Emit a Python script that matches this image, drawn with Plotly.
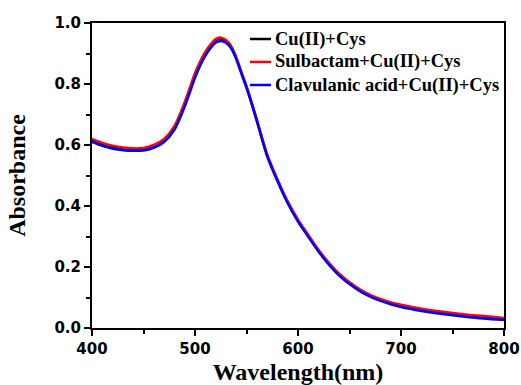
import plotly.graph_objects as go

wavelength = [400, 410, 420, 430, 440, 450, 460, 470, 480, 490, 500, 505, 510, 515, 520, 525,
              530, 535, 540, 545, 550, 555, 560, 570, 580, 590, 600, 610, 620, 630, 640, 650,
              660, 670, 680, 690, 700, 720, 740, 760, 780, 800]

cu_cys = [0.616, 0.603, 0.594, 0.588, 0.585, 0.586, 0.596, 0.616, 0.658, 0.736, 0.831, 0.870,
          0.901, 0.925, 0.944, 0.949, 0.941, 0.922, 0.885, 0.837, 0.790, 0.737, 0.681, 0.567,
          0.485, 0.412, 0.352, 0.302, 0.253, 0.211, 0.175, 0.147, 0.124, 0.106, 0.092, 0.081,
          0.072, 0.059, 0.049, 0.041, 0.035, 0.029]

sulbactam = [0.620, 0.607, 0.598, 0.592, 0.589, 0.590, 0.600, 0.620, 0.662, 0.740, 0.835, 0.874,
             0.905, 0.929, 0.947, 0.952, 0.944, 0.925, 0.888, 0.840, 0.793, 0.740, 0.684, 0.570,
             0.488, 0.415, 0.355, 0.305, 0.256, 0.214, 0.178, 0.150, 0.127, 0.109, 0.095, 0.084,
             0.076, 0.063, 0.053, 0.045, 0.039, 0.033]

clavulanic = [0.610, 0.597, 0.588, 0.583, 0.581, 0.582, 0.591, 0.610, 0.650, 0.726, 0.820, 0.860,
              0.892, 0.917, 0.935, 0.941, 0.935, 0.917, 0.882, 0.835, 0.788, 0.735, 0.679, 0.564,
              0.482, 0.409, 0.349, 0.299, 0.250, 0.208, 0.172, 0.144, 0.121, 0.103, 0.089, 0.078,
              0.069, 0.056, 0.046, 0.038, 0.031, 0.026]

series_names = ["Cu(II)+Cys", "Sulbactam+Cu(II)+Cys", "Clavulanic acid+Cu(II)+Cys"]
series_values = [cu_cys, sulbactam, clavulanic]
series_colors = ["#000000", "#ff0000", "#0000ff"]

fig = go.Figure()
for name, vals, col in zip(series_names, series_values, series_colors):
    fig.add_trace(go.Scatter(x=wavelength, y=vals, mode="lines", name=name,
                             line=dict(color=col, width=2.5, shape="spline", smoothing=0.8),
                             showlegend=False))

L, R, T, B = 92, 17, 23, 57
W, H = 521, 385
pw, ph = W - L - R, H - T - B

def px2paper(x, y):
    return (x - L) / pw, (H - B - y) / ph

shapes = []
annotations = []
legend_rows = [39, 62, 85]
for name, col, py in zip(series_names, series_colors, legend_rows):
    x0, y0 = px2paper(250, py)
    x1, _ = px2paper(271, py)
    shapes.append(dict(type="line", xref="paper", yref="paper", x0=x0, x1=x1, y0=y0, y1=y0,
                       line=dict(color=col, width=2.5)))
    tx, ty = px2paper(273, py)
    annotations.append(dict(text=name, xref="paper", yref="paper", x=tx, y=ty,
                            xanchor="left", yanchor="middle", showarrow=False,
                            font=dict(family="Liberation Serif", size=18.5, color="black",
                                      weight="bold")))

axis_common = dict(showline=True, linecolor="black", linewidth=2, mirror=True,
                   ticks="outside", ticklen=6, tickwidth=2, tickcolor="black",
                   showgrid=False, zeroline=False, automargin=False,
                   tickfont=dict(family="DejaVu Sans", size=15, color="black", weight="bold"))

fig.update_layout(
    width=W, height=H,
    margin=dict(l=L, r=R, t=T, b=B),
    paper_bgcolor="white", plot_bgcolor="white",
    shapes=shapes, annotations=annotations,
    xaxis=dict(range=[400, 800], tickvals=[400, 500, 600, 700, 800],
               minor=dict(tickvals=[450, 550, 650, 750], ticklen=4, tickwidth=2,
                          ticks="outside", tickcolor="black"),
               title=dict(text="Wavelength(nm)", standoff=6,
                          font=dict(family="Liberation Serif", size=24, color="black",
                                    weight="bold")),
               **axis_common),
    yaxis=dict(range=[0, 1.0], tickvals=[0, 0.2, 0.4, 0.6, 0.8, 1.0], tickformat=".1f",
               minor=dict(tickvals=[0.1, 0.3, 0.5, 0.7, 0.9], ticklen=4, tickwidth=2,
                          ticks="outside", tickcolor="black"),
               title=dict(text="Absorbance", standoff=22,
                          font=dict(family="Liberation Serif", size=24, color="black",
                                    weight="bold")),
               **axis_common),
)

fig.write_html("out.html", config={"displayModeBar": False},
               post_script="document.body.style.margin='0';document.body.style.overflow='hidden';")
